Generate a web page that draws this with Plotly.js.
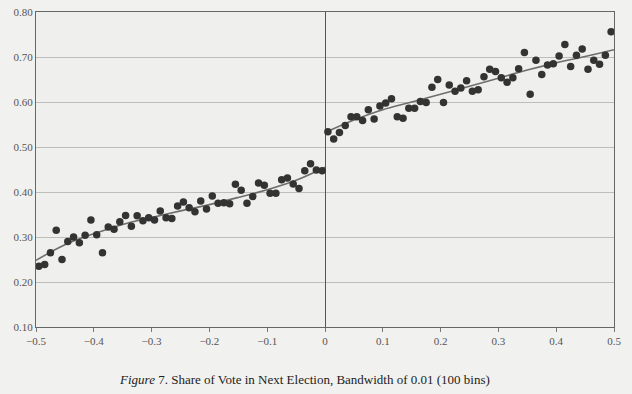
<!DOCTYPE html>
<html>
<head>
<meta charset="utf-8">
<script src="https://cdn.plot.ly/plotly-3.0.1.min.js"></script>
<style>html,body{margin:0;padding:0;background:#f1f1ef;}#chart{width:632px;height:394px;}</style>
</head>
<body>
<div id="chart"></div>
<script>
// Bin centers (bandwidth 0.01) and average vote share in next election
const leftX = [-0.495,-0.485,-0.475,-0.465,-0.455,-0.445,-0.435,-0.425,-0.415,-0.405,
  -0.395,-0.385,-0.375,-0.365,-0.355,-0.345,-0.335,-0.325,-0.315,-0.305,
  -0.295,-0.285,-0.275,-0.265,-0.255,-0.245,-0.235,-0.225,-0.215,-0.205,
  -0.195,-0.185,-0.175,-0.165,-0.155,-0.145,-0.135,-0.125,-0.115,-0.105,
  -0.095,-0.085,-0.075,-0.065,-0.055,-0.045,-0.035,-0.025,-0.015,-0.005];
const leftY = [0.235,0.239,0.265,0.315,0.250,0.290,0.300,0.287,0.304,0.338,
  0.305,0.265,0.322,0.317,0.334,0.348,0.324,0.347,0.336,0.343,
  0.338,0.358,0.343,0.341,0.369,0.378,0.365,0.356,0.380,0.362,
  0.391,0.375,0.376,0.374,0.417,0.404,0.375,0.390,0.420,0.415,
  0.397,0.397,0.427,0.431,0.418,0.408,0.447,0.463,0.449,0.447];
const rightX = [0.005,0.015,0.025,0.035,0.045,0.055,0.065,0.075,0.085,0.095,
  0.105,0.115,0.125,0.135,0.145,0.155,0.165,0.175,0.185,0.195,
  0.205,0.215,0.225,0.235,0.245,0.255,0.265,0.275,0.285,0.295,
  0.305,0.315,0.325,0.335,0.345,0.355,0.365,0.375,0.385,0.395,
  0.405,0.415,0.425,0.435,0.445,0.455,0.465,0.475,0.485,0.495];
const rightY = [0.534,0.518,0.532,0.548,0.567,0.567,0.559,0.583,0.562,0.591,
  0.598,0.607,0.567,0.564,0.586,0.586,0.601,0.599,0.633,0.650,
  0.599,0.638,0.624,0.631,0.647,0.624,0.627,0.656,0.673,0.668,
  0.654,0.644,0.654,0.674,0.710,0.617,0.693,0.661,0.682,0.685,
  0.702,0.728,0.679,0.704,0.718,0.673,0.693,0.684,0.704,0.756];
// Fitted curves
const fitLeftX = [-0.5,-0.45,-0.4,-0.35,-0.3,-0.25,-0.2,-0.15,-0.1,-0.05,0];
const fitLeftY = [0.248,0.283,0.307,0.328,0.343,0.358,0.372,0.388,0.405,0.426,0.455];
const fitRightX = [0,0.05,0.1,0.15,0.2,0.25,0.3,0.35,0.4,0.45,0.5];
const fitRightY = [0.532,0.560,0.583,0.600,0.617,0.635,0.653,0.671,0.687,0.701,0.716];
const xTicks = [-0.5,-0.4,-0.3,-0.2,-0.1,0,0.1,0.2,0.3,0.4,0.5];
const xTickText = ['−0.5','−0.4','−0.3','−0.2','−0.1','0','0.1','0.2','0.3','0.4','0.5'];
const yTicks = [0.1,0.2,0.3,0.4,0.5,0.6,0.7,0.8];
const yTickText = ['0.10','0.20','0.30','0.40','0.50','0.60','0.70','0.80'];
const caption = '<i>Figure</i> 7. Share of Vote in Next Election, Bandwidth of 0.01 (100 bins)';

const marker = {color:'#333333', size:7.5};
const lineStyle = {color:'#6e6e6e', width:1.6, shape:'spline', smoothing:1};
const data = [
  {x:fitLeftX, y:fitLeftY, mode:'lines', line:lineStyle, hoverinfo:'skip'},
  {x:fitRightX, y:fitRightY, mode:'lines', line:lineStyle, hoverinfo:'skip'},
  {x:leftX, y:leftY, mode:'markers', marker:marker},
  {x:rightX, y:rightY, mode:'markers', marker:marker}
];
const font = {family:'"Liberation Serif", "DejaVu Serif", serif', size:11, color:'#555'};
const layout = {
  width:632, height:394,
  margin:{l:36, r:18, t:12, b:67},
  paper_bgcolor:'#f1f1ef', plot_bgcolor:'#efefed',
  showlegend:false,
  font:font,
  xaxis:{range:[-0.5,0.5], tickvals:xTicks, ticktext:xTickText, showgrid:false,
    zeroline:true, zerolinecolor:'#555', zerolinewidth:1,
    showline:true, linecolor:'#666', linewidth:1, mirror:true,
    ticks:'outside', ticklen:4, tickcolor:'#777', fixedrange:true},
  yaxis:{range:[0.1,0.8], tickvals:yTicks, ticktext:yTickText, showgrid:true,
    gridcolor:'#bdbdbb', gridwidth:1, zeroline:false,
    showline:true, linecolor:'#666', linewidth:1, mirror:true,
    ticks:'', ticklen:0, fixedrange:true},
  annotations:[{text:caption, xref:'paper', yref:'paper', x:0.465, y:-0.168,
    xanchor:'center', yanchor:'middle', showarrow:false,
    font:{family:'"Liberation Serif", "DejaVu Serif", serif', size:13, color:'#222'}}]
};
Plotly.newPlot('chart', data, layout, {displayModeBar:false, staticPlot:true});
</script>
</body>
</html>
